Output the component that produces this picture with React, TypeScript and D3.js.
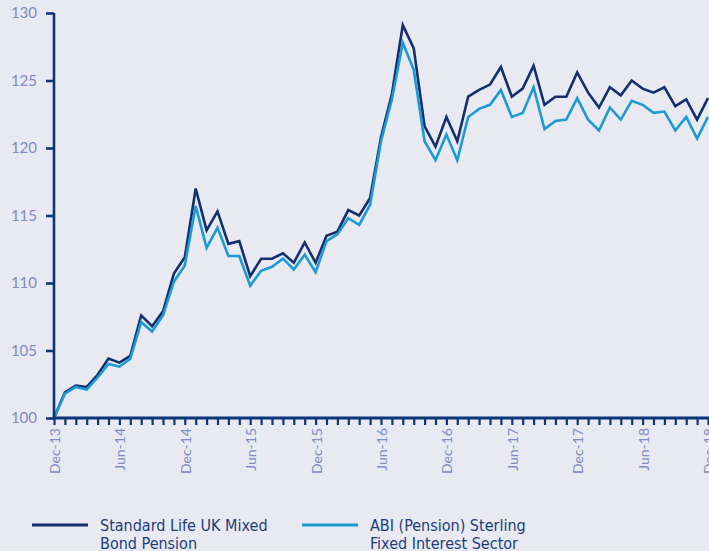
import * as d3 from 'd3';
import React, { useRef, useEffect } from 'react';

// monthly index values, Dec-13 = 100
const standardLife = [
  100.0, 101.9, 102.4, 102.3, 103.2, 104.4, 104.1, 104.6, 107.6, 106.8,
  107.9, 110.7, 111.9, 117.0, 113.9, 115.3, 112.9, 113.1, 110.5, 111.8,
  111.8, 112.2, 111.5, 113.0, 111.5, 113.5, 113.8, 115.4, 115.0, 116.3,
  120.8, 124.0, 129.1, 127.4, 121.6, 120.1, 122.3, 120.5, 123.8, 124.3,
  124.7, 126.0, 123.8, 124.4, 126.1, 123.2, 123.8, 123.8, 125.6, 124.1,
  123.0, 124.5, 123.9, 125.0, 124.4, 124.1, 124.5, 123.1, 123.6, 122.1,
  123.7,
];
const abiSector = [
  100.0, 101.8, 102.3, 102.1, 103.0, 104.0, 103.8, 104.4, 107.1, 106.4,
  107.6, 110.1, 111.3, 115.7, 112.6, 114.1, 112.0, 112.0, 109.8, 110.9,
  111.2, 111.8, 111.0, 112.1, 110.8, 113.1, 113.6, 114.8, 114.3, 115.8,
  120.5, 123.6, 127.8, 125.8, 120.5, 119.1, 121.0, 119.1, 122.3, 122.9,
  123.2, 124.3, 122.3, 122.6, 124.5, 121.4, 122.0, 122.1, 123.7, 122.1,
  121.3, 123.0, 122.1, 123.5, 123.2, 122.6, 122.7, 121.3, 122.3, 120.7,
  122.3,
];
const xTickLabels = [
  "Dec-13", "Jun-14", "Dec-14", "Jun-15", "Dec-15", "Jun-16",
  "Dec-16", "Jun-17", "Dec-17", "Jun-18", "Dec-18",
];
const yTicks = [100, 105, 110, 115, 120, 125, 130];

const seriesNames = [
  ["Standard Life UK Mixed", "Bond Pension"],
  ["ABI (Pension) Sterling", "Fixed Interest Sector"],
];

const DARK = "#132f6c";
const LIGHT = "#1c9ad6";
const AXIS = "#0b3678";
const LABEL = "#7d8cc0";

function App(): any {
  const ref = useRef(null);
  const width = 709;
  const height = 551;
  const margin = { top: 13, right: 1, bottom: 133, left: 54 };

  useEffect(() => {
    const svg = d3.select(ref.current);
    svg.selectAll("*").remove();

    const x = d3.scaleLinear()
      .domain([0, standardLife.length - 1])
      .range([margin.left, width - margin.right]);
    const y = d3.scaleLinear()
      .domain([100, 130])
      .range([height - margin.bottom, margin.top]);

    svg.append("rect")
      .attr("width", width)
      .attr("height", height)
      .attr("fill", "#e9e9f2");

    const line = d3.line<number>()
      .x((d, i) => x(i))
      .y(d => y(d));

    const plot = svg.append("g");
    plot.append("path")
      .datum(standardLife)
      .attr("d", line)
      .attr("fill", "none")
      .attr("stroke", DARK)
      .attr("stroke-width", 2.6)
      .attr("stroke-linejoin", "miter");
    plot.append("path")
      .datum(abiSector)
      .attr("d", line)
      .attr("fill", "none")
      .attr("stroke", LIGHT)
      .attr("stroke-width", 2.6)
      .attr("stroke-linejoin", "miter");

    // y axis
    const yAxis = svg.append("g")
      .attr("transform", "translate(" + margin.left + ",0)")
      .call(d3.axisLeft(y).tickValues(yTicks).tickSize(8).tickPadding(9).tickFormat(d3.format("d")));
    yAxis.select(".domain")
      .attr("stroke", AXIS)
      .attr("stroke-width", 2.6)
      .attr("d", "M0," + y(130) + "V" + y(100));
    yAxis.selectAll(".tick line").attr("stroke", AXIS).attr("stroke-width", 2.6);
    yAxis.selectAll(".tick text")
      .attr("fill", LABEL)
      .style("font-family", "Lato, 'Open Sans', sans-serif")
      .style("font-size", "15px");

    // x axis: monthly ticks, labels every six months
    const monthIdx = d3.range(0, standardLife.length);
    const xAxis = svg.append("g")
      .attr("transform", "translate(0," + y(100) + ")")
      .call(d3.axisBottom(x).tickValues(monthIdx).tickSize(7).tickFormat(() => ""));
    xAxis.select(".domain")
      .attr("stroke", AXIS)
      .attr("stroke-width", 3)
      .attr("d", "M" + margin.left + ",0H" + width);
    xAxis.selectAll(".tick line").attr("stroke", AXIS).attr("stroke-width", 2.2);

    const labels = svg.append("g");
    xTickLabels.forEach((lab, k) => {
      const xi = x(k * 6) + 1;
      labels.append("text")
        .attr("transform", "translate(" + xi + "," + (y(100) + 10) + ") rotate(-90)")
        .attr("text-anchor", "end")
        .attr("dy", "0.36em")
        .attr("fill", LABEL)
        .style("font-family", "Lato, 'Open Sans', sans-serif")
        .style("font-size", "14px")
        .text(lab);
    });

    // legend
    const legend = svg.append("g");
    const legendX = [32, 302];
    const colors = [DARK, LIGHT];
    seriesNames.forEach((name, k) => {
      const g = legend.append("g").attr("transform", "translate(" + legendX[k] + ",525)");
      g.append("line")
        .attr("x1", 0).attr("x2", 56)
        .attr("stroke", colors[k])
        .attr("stroke-width", 3);
      name.forEach((t, j) => {
        g.append("text")
          .attr("x", 68)
          .attr("y", j * 18)
          .attr("dy", "0.36em")
          .attr("fill", "#1b3d7c")
          .style("font-family", "'Liberation Sans Narrow', 'DejaVu Sans Condensed', sans-serif")
          .style("font-size", "16px")
          .text(t);
      });
    });
  }, []);

  return (
    <svg
      ref={ref}
      width={width}
      height={height}
      style={{ position: "absolute", left: 0, top: 0, display: "block" }}
    />
  );
}

export default App;
